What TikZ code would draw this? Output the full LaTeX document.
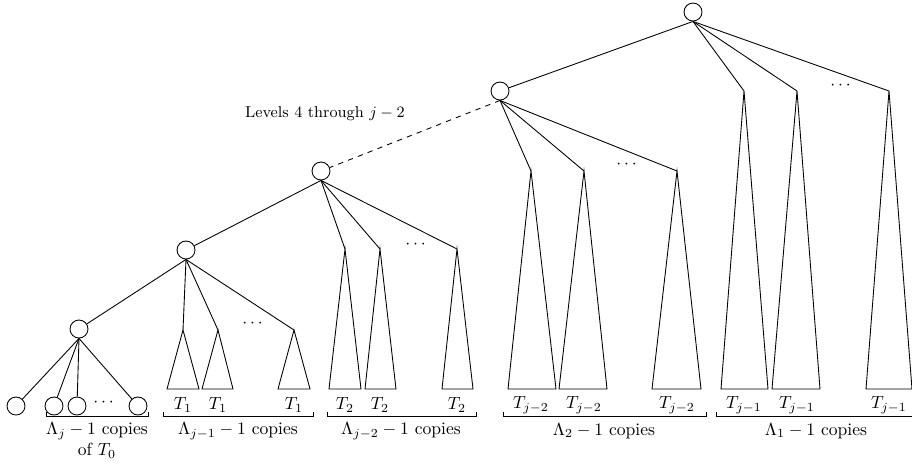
\documentclass[tikz,border=0pt]{standalone}
\usepackage{amsmath}
\usepackage{xcolor}
\usepackage{tikz}
\begin{document}
\begin{tikzpicture}[x=0.02cm,y=-0.02cm,line width=0.5pt,
            vert/.style={draw,circle,inner sep=0pt,minimum size=0.36cm},
            tlabel/.style={inner sep=0pt}]
            \useasboundingbox (0,0) rectangle (912,471);
            % internal vertices along the left spine
            \node[vert] (root) at (693,12) {};
            \node[vert] (lvA) at (500,91) {};
            \node[vert] (lvB) at (321,171) {};
            \node[vert] (lvC) at (186,250) {};
            \node[vert] (lvD) at (79,329) {};
            \draw (root.south)--(lvA);
            \draw[dashed] (lvA.south)--(lvB);
            \draw (lvB.south)--(lvC);
            \draw (lvC.south)--(lvD);
            \node at (325,114) {\small Levels 4 through $j-2$};
            % leaves: copies of T_0
            \foreach \n/\x in {z0/16,z1/54,z2/77,z3/138}{
                \node[vert] (\n) at (\x,406) {};
                \draw (lvD.south)--(\n);
            }
            \node at (105,403) {$\cdots$};
            % subtrees T_1
            \foreach \n/\x/\l/\r in {a1/183/167/199,a2/218/202/233,a3/294/278/310}{
                \coordinate (\n) at (\x,330);
                \draw (\n)--(\l,389)--(\r,389)--cycle;
                \draw (lvC.south)--(\n);
                \node[tlabel] at (\x,405) {$T_1$};
            }
            \node at (254,324) {$\cdots$};
            % subtrees T_2
            \foreach \n/\x/\l/\r in {b1/345/329/361,b2/380/365/396,b3/457/442/473}{
                \coordinate (\n) at (\x,249);
                \draw (\n)--(\l,389)--(\r,389)--cycle;
                \draw (lvB.south)--(\n);
                \node[tlabel] at (\x,405) {$T_2$};
            }
            \node at (417,245) {$\cdots$};
            % subtrees T_{j-2}
            \foreach \n/\x/\l/\r in {c1/531/508/556,c2/584/559/607,c3/677/652/701}{
                \coordinate (\n) at (\x,171);
                \draw (\n)--(\l,389)--(\r,389)--cycle;
                \draw (lvA.south)--(\n);
                \node[tlabel] at (\x,405) {$T_{j-2}$};
            }
            \node at (628,165) {$\cdots$};
            % subtrees T_{j-1}
            \foreach \n/\x/\l/\r in {d1/744/721/768,d2/797/772/820,d3/889/866/912}{
                \coordinate (\n) at (\x,91);
                \draw (\n)--(\l,389)--(\r,389)--cycle;
                \draw (root.south)--(\n);
                \node[tlabel] at (\x,405) {$T_{j-1}$};
            }
            \node at (842,86) {$\cdots$};
            % brackets with counts
            \foreach \l/\r/\m/\t in {46/148/97/{$\Lambda_j-1$ copies},163/313/238/{$\Lambda_{j-1}-1$ copies},327/476/401/{$\Lambda_{j-2}-1$ copies},503/706/604/{$\Lambda_2-1$ copies},716/916/816/{$\Lambda_1-1$ copies}}{
                \draw (\l,412)--(\l,416)--(\r,416)--(\r,412);
                \node at (\m,431) {\t};
            }
            \node at (97,451) {of $T_0$};
        \end{tikzpicture}
\end{document}
